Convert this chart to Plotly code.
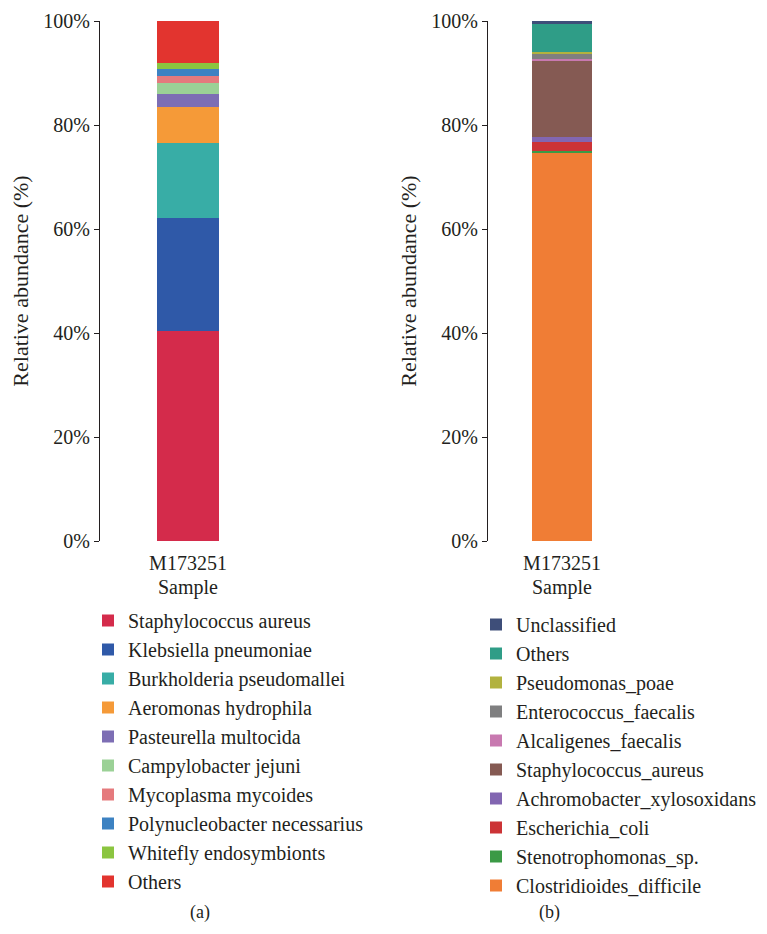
import plotly.graph_objects as go

W, H = 767, 934

sample = ["M173251"]

# Panel (a)
a_names = ["Staphylococcus aureus", "Klebsiella pneumoniae", "Burkholderia pseudomallei",
           "Aeromonas hydrophila", "Pasteurella multocida", "Campylobacter jejuni",
           "Mycoplasma mycoides", "Polynucleobacter necessarius", "Whitefly endosymbionts", "Others"]
a_values = [40.4, 21.7, 14.4, 7.0, 2.5, 2.1, 1.3, 1.4, 1.1, 8.1]
a_colors = ["#D42B4B", "#2F59A8", "#38ADA6", "#F59A38", "#7D6EB4",
            "#9BD196", "#E57A7D", "#3D82C2", "#8BC540", "#E2342F"]

# Panel (b) (bottom to top)
b_names = ["Clostridioides_difficile", "Stenotrophomonas_sp.", "Escherichia_coli",
           "Achromobacter_xylosoxidans", "Staphylococcus_aureus", "Alcaligenes_faecalis",
           "Enterococcus_faecalis", "Pseudomonas_poae", "Others", "Unclassified"]
b_values = [74.6, 0.4, 1.7, 1.0, 14.6, 0.4, 1.0, 0.4, 5.4, 0.5]
b_colors = ["#F07D35", "#3B9A46", "#CC3336", "#8266B1", "#855A53",
            "#C879B0", "#7F7F80", "#B2B23F", "#2F9D87", "#3E4E79"]

y_tickvals = [0, 20, 40, 60, 80, 100]
y_ticktext = ["0%", "20%", "40%", "60%", "80%", "100%"]

FONT = "Liberation Serif, Times New Roman, serif"
TXT = "#231F20"

fig = go.Figure()
for n, v, c in zip(a_names, a_values, a_colors):
    fig.add_trace(go.Bar(x=sample, y=[v], name=n, marker=dict(color=c, line=dict(width=0)),
                         xaxis="x", yaxis="y", width=0.347, legend="legend"))
for n, v, c in zip(b_names, b_values, b_colors):
    fig.add_trace(go.Bar(x=sample, y=[v], name=n, marker=dict(color=c, line=dict(width=0)),
                         xaxis="x2", yaxis="y2", width=0.41, legend="legend2"))

def px(x):
    return x / W

def py(y):
    return 1 - y / H

ydom = [py(541), py(21)]
yaxis_common = dict(range=[0, 100], tickvals=y_tickvals, ticktext=y_ticktext,
                    showline=True, linecolor="#231F20", linewidth=1.3,
                    ticks="outside", ticklen=5, tickcolor="#231F20", tickwidth=1.3,
                    showgrid=False, zeroline=False,
                    tickfont=dict(family=FONT, size=20, color=TXT),
                    title=dict(text="Relative abundance (%)", font=dict(family=FONT, size=22, color=TXT),
                               standoff=8),
                    domain=ydom, fixedrange=True)
xaxis_common = dict(showline=False, ticks="", showgrid=False, zeroline=False,
                    tickfont=dict(family=FONT, size=20, color=TXT), ticklabelstandoff=8,
                    title=dict(text="Sample", font=dict(family=FONT, size=20, color=TXT), standoff=6),
                    range=[-0.5, 0.5])

fig.update_layout(
    width=W, height=H, margin=dict(l=0, r=0, t=0, b=0, autoexpand=False),
    paper_bgcolor="white", plot_bgcolor="white",
    barmode="stack", bargap=0,
    font=dict(family=FONT, size=20, color=TXT),
    xaxis=dict(domain=[px(100), px(276)], anchor="y", **xaxis_common),
    yaxis=dict(anchor="x", **yaxis_common),
    xaxis2=dict(domain=[px(488), px(636)], anchor="y2", **xaxis_common),
    yaxis2=dict(anchor="x2", **yaxis_common),
    legend=dict(x=px(88), y=py(601), xanchor="left", yanchor="top", traceorder="normal",
                font=dict(family=FONT, size=20, color=TXT), tracegroupgap=0, bgcolor="rgba(0,0,0,0)"),
    legend2=dict(x=px(476), y=py(605), xanchor="left", yanchor="top", traceorder="reversed",
                 font=dict(family=FONT, size=20, color=TXT), tracegroupgap=0, bgcolor="rgba(0,0,0,0)"),
    annotations=[
        dict(text="(a)", x=px(188), y=py(912), xref="paper", yref="paper", showarrow=False,
             yanchor="middle", font=dict(family=FONT, size=18, color=TXT)),
        dict(text="(b)", x=px(562), y=py(912), xref="paper", yref="paper", showarrow=False,
             yanchor="middle", font=dict(family=FONT, size=18, color=TXT)),
    ],
)

fig.write_html("out.html")
